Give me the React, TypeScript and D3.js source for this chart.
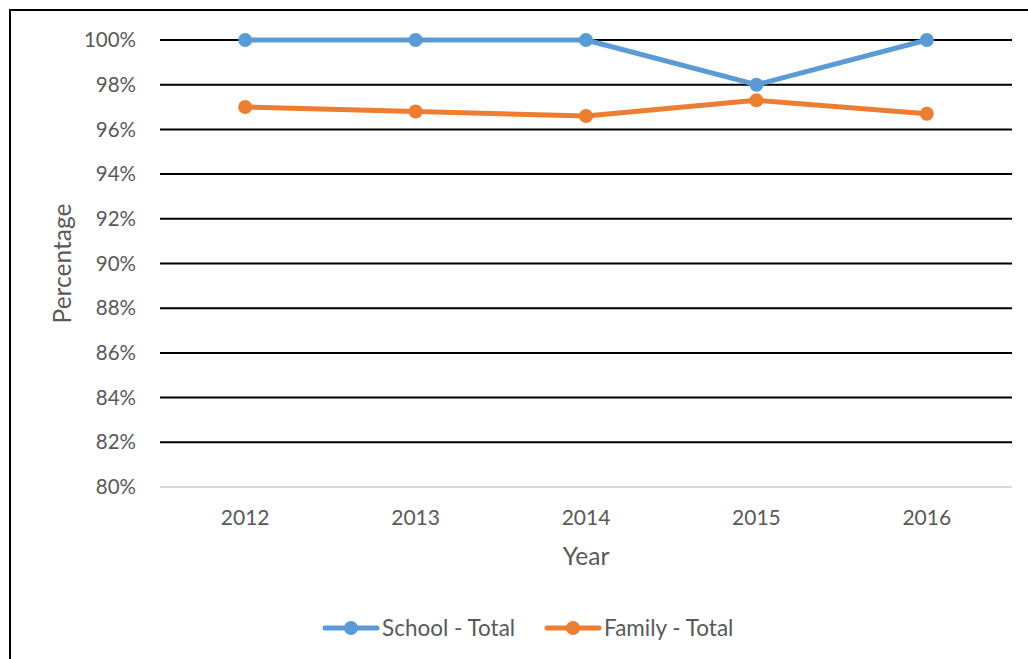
import React, { useEffect, useRef } from "react";
import * as d3 from "d3";

const years = ["2012", "2013", "2014", "2015", "2016"];
const schoolTotal = [100, 100, 100, 98, 100];
const familyTotal = [97.0, 96.8, 96.6, 97.3, 96.7];
const yTicks = [80, 82, 84, 86, 88, 90, 92, 94, 96, 98, 100];

const seriesList = [
  { name: "School - Total", values: schoolTotal, color: "#5B9BD5" },
  { name: "Family - Total", values: familyTotal, color: "#ED7D31" },
];

const drawChart = (svgEl: SVGSVGElement) => {
  const width = 1028;
  const height = 659;
  const margin = { top: 40, right: 16, bottom: 172, left: 160 };
  const font = "Lato, 'Open Sans', sans-serif";
  const textColor = "#595959";

  const svg = d3.select(svgEl);
  svg.selectAll("*").remove();

  // outer border (runs off the right and bottom edges)
  svg
    .append("rect")
    .attr("x", 10)
    .attr("y", 10)
    .attr("width", width + 20)
    .attr("height", height + 20)
    .attr("fill", "white")
    .attr("stroke", "black")
    .attr("stroke-width", 2);

  const xScale = d3
    .scaleBand()
    .domain(years)
    .range([margin.left, width - margin.right]);

  const yScale = d3
    .scaleLinear()
    .domain([80, 100])
    .range([height - margin.bottom, margin.top]);

  // gridlines
  svg
    .append("g")
    .selectAll("line")
    .data(yTicks)
    .enter()
    .append("line")
    .attr("x1", margin.left)
    .attr("x2", width - margin.right)
    .attr("y1", (d) => yScale(d))
    .attr("y2", (d) => yScale(d))
    .attr("stroke", (d) => (d === 80 ? "#d9d9d9" : "black"))
    .attr("stroke-width", 2);

  // y tick labels
  svg
    .append("g")
    .selectAll("text")
    .data(yTicks)
    .enter()
    .append("text")
    .attr("x", 136)
    .attr("y", (d) => yScale(d))
    .attr("dy", "0.35em")
    .attr("text-anchor", "end")
    .style("font-family", font)
    .style("font-size", "20.5px")
    .attr("fill", textColor)
    .text((d) => `${d}%`);

  // x tick labels
  svg
    .append("g")
    .selectAll("text")
    .data(years)
    .enter()
    .append("text")
    .attr("x", (d) => xScale(d)! + xScale.bandwidth() / 2)
    .attr("y", yScale(80) + 31)
    .attr("dy", "0.35em")
    .attr("text-anchor", "middle")
    .style("font-family", font)
    .style("font-size", "21px")
    .attr("fill", textColor)
    .text((d) => d);

  // axis titles
  svg
    .append("text")
    .attr("x", (margin.left + width - margin.right) / 2)
    .attr("y", 556)
    .attr("dy", "0.35em")
    .attr("text-anchor", "middle")
    .style("font-family", font)
    .style("font-size", "24.5px")
    .attr("fill", textColor)
    .text("Year");

  svg
    .append("text")
    .attr("transform", `translate(62, ${yScale(90)}) rotate(-90)`)
    .attr("dy", "0.35em")
    .attr("text-anchor", "middle")
    .style("font-family", font)
    .style("font-size", "24.5px")
    .attr("fill", textColor)
    .text("Percentage");

  const line = d3
    .line<number>()
    .x((_, i) => xScale(years[i])! + xScale.bandwidth() / 2)
    .y((d) => yScale(d));

  seriesList.forEach((s) => {
    svg
      .append("path")
      .datum(s.values)
      .attr("d", line)
      .attr("fill", "none")
      .attr("stroke", s.color)
      .attr("stroke-width", 5)
      .attr("stroke-linejoin", "round")
      .attr("stroke-linecap", "round");

    svg
      .append("g")
      .selectAll("circle")
      .data(s.values)
      .enter()
      .append("circle")
      .attr("cx", (_, i) => xScale(years[i])! + xScale.bandwidth() / 2)
      .attr("cy", (d) => yScale(d))
      .attr("r", 7)
      .attr("fill", s.color);
  });

  // legend
  const legendX = [323, 545];
  const legendY = 628;
  seriesList.forEach((s, i) => {
    const g = svg.append("g").attr("transform", `translate(${legendX[i]}, ${legendY})`);
    g.append("line")
      .attr("x1", 2)
      .attr("x2", 54)
      .attr("stroke", s.color)
      .attr("stroke-width", 5)
      .attr("stroke-linecap", "round");
    g.append("circle").attr("cx", 28).attr("r", 7).attr("fill", s.color);
    g.append("text")
      .attr("x", 59)
      .attr("dy", "0.35em")
      .style("font-family", font)
      .style("font-size", "22.5px")
      .attr("fill", textColor)
      .text(s.name);
  });
};

export default function App() {
  const svgRef = useRef<SVGSVGElement>(null);

  useEffect(() => {
    if (svgRef.current) drawChart(svgRef.current);
  }, []);

  return (
    <svg
      ref={svgRef}
      width="1028"
      height="659"
      style={{ position: "absolute", left: 0, top: 0 }}
    ></svg>
  );
}
